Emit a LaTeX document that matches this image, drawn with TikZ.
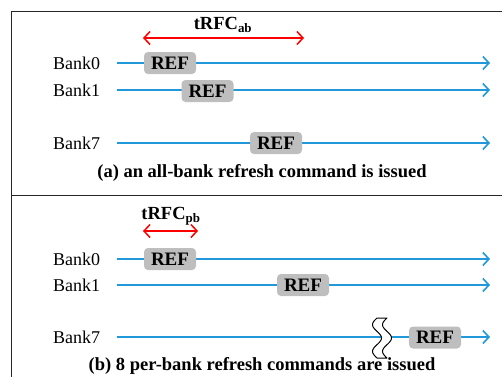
\documentclass[tikz,border=0pt]{standalone}
\usepackage{fontspec}
\setmainfont{Liberation Serif}
\usetikzlibrary{arrows.meta}
\definecolor{lineblue}{RGB}{32,152,218}
\definecolor{refgray}{RGB}{190,190,190}
\begin{document}
\begin{tikzpicture}[x=1pt,y=-1pt,
  every node/.style={font=\fontsize{18}{21}\selectfont, inner sep=0pt},
  banklbl/.style={anchor=west},
  timeline/.style={draw=lineblue, line width=1.6pt, -{Straight Barb[length=6pt,width=13pt,line width=1.6pt]}},
  refbox/.style={fill=refgray, rounded corners=4pt, minimum width=52pt, minimum height=22pt, font=\fontsize{19}{21}\selectfont\bfseries},
  span/.style={draw=red, line width=1.5pt, {Straight Barb[length=6pt,width=13pt,line width=1.5pt]}-{Straight Barb[length=6pt,width=13pt,line width=1.5pt]}},
  caption/.style={font=\fontsize{18.5}{21}\selectfont\bfseries},
  frame/.style={draw=black!85, line width=1.3pt}]
\useasboundingbox (0,0) rectangle (502,376);
% frame
\coordinate (ftl) at (11.5,11.5);
\coordinate (ftr) at (503,11.5);
\coordinate (fbl) at (11.5,377);
\coordinate (fml) at (11.5,195.5);
\coordinate (fmr) at (503,195.5);
\draw[frame] (ftr) -- (ftl) -- (fbl);
\draw[frame] (fml) -- (fmr);

% ---------- part (a)
\node[caption] (tab) at (223,25) {tRFC\textsubscript{ab}};
\coordinate (tas) at (143,38);
\coordinate (tae) at (304,38);
\draw[span] (tas) -- (tae);

\node[banklbl] (a0) at (53,63) {Bank0};
\node[banklbl] (a1) at (53,90) {Bank1};
\node[banklbl] (a7) at (53,143) {Bank7};
\coordinate (a0s) at (117,63); \coordinate (a0e) at (490,63);
\coordinate (a1s) at (117,90); \coordinate (a1e) at (490,90);
\coordinate (a7s) at (117,143); \coordinate (a7e) at (490,143);
\draw[timeline] (a0s) -- (a0e);
\draw[timeline] (a1s) -- (a1e);
\draw[timeline] (a7s) -- (a7e);
\node[refbox] (ra0) at (170,63) {REF};
\node[refbox] (ra1) at (207.5,91) {REF};
\node[refbox] (ra7) at (276,143) {REF};
\node[caption] (capa) at (262,173) {(a) an all-bank refresh command is issued};

% ---------- part (b)
\node[caption] (tpb) at (171,216) {tRFC\textsubscript{pb}};
\coordinate (tbs) at (143,231);
\coordinate (tbe) at (198,231);
\draw[span] (tbs) -- (tbe);

\node[banklbl] (b0) at (53,259) {Bank0};
\node[banklbl] (b1) at (53,285) {Bank1};
\node[banklbl] (b7) at (53,337) {Bank7};
\coordinate (b0s) at (117,259); \coordinate (b0e) at (490,259);
\coordinate (b1s) at (117,285); \coordinate (b1e) at (490,285);
\coordinate (b7s) at (117,337); \coordinate (b7e) at (490,337);
\draw[timeline] (b0s) -- (b0e);
\draw[timeline] (b1s) -- (b1e);
\draw[timeline] (b7s) -- (b7e);
\node[refbox] (rb0) at (170,259) {REF};
\node[refbox] (rb1) at (303,285) {REF};
\node[refbox] (rb7) at (435,337.5) {REF};
% break mark
\draw[fill=white, line width=1pt, line join=round]
  plot[domain=0:1, samples=40, smooth] ({377-4.5*sin(540*\x)}, {318+40*\x})
  -- plot[domain=1:0, samples=40, smooth] ({387-4.5*sin(540*\x)}, {318+40*\x}) -- cycle;
\node[caption] (capb) at (262,366) {(b) 8 per-bank refresh commands are issued};
\end{tikzpicture}
\end{document}
